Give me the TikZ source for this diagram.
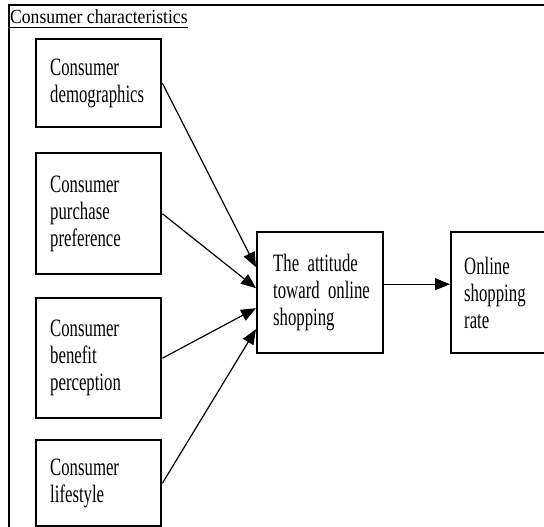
\documentclass[tikz,border=0pt]{standalone}
\usepackage{fontspec}
\setmainfont{Liberation Serif}
\newfontfamily\boxfont[FakeStretch=0.67]{Liberation Serif}
\newfontfamily\titlefont[FakeStretch=0.88]{Liberation Serif}
\usetikzlibrary{arrows.meta}
\begin{document}
\begin{tikzpicture}[x=1pt,y=-1pt,
  boxnode/.style={draw, line width=2.4pt, rectangle, inner ysep=0pt, inner xsep=14pt,
    align=left, anchor=north west, font=\boxfont\fontsize{25}{27}\selectfont},
  link/.style={-{Triangle[length=15pt,width=12pt]}, line width=1.2pt},
  frameline/.style={line width=2pt}]
\useasboundingbox (0,0) rectangle (544,527);
\clip (0,0) rectangle (544,527);
% outer frame
\draw[frameline] (9,540) |- (560,5);
% title
\node[anchor=base west, inner sep=0pt, font=\titlefont\fontsize{20}{24}\selectfont] (title) at (10,24) {Consumer characteristics};
\draw[line width=1pt] (9,28) -- ([yshift=-4pt]title.base east);
% boxes
\node[boxnode, text width=97pt, minimum height=88pt] (b1) at (35,38) {Consumer\\demographics};
\node[boxnode, text width=97pt, minimum height=121pt] (b2) at (35,152) {Consumer\\purchase\\preference};
\node[boxnode, text width=97pt, minimum height=120pt] (b3) at (35,297) {Consumer\\benefit\\perception};
\node[boxnode, text width=97pt, minimum height=86pt] (b4) at (35,439) {Consumer\\lifestyle};
\node[boxnode, inner xsep=16pt, text width=94pt, minimum height=121pt] (c) at (256,231) {The attitude\\\mbox{toward online}\\shopping\\[-6pt]};
\node[boxnode, inner xsep=13pt, text width=100pt, minimum height=121pt] (r) at (450,231) {Online\\shopping\\rate\\[-6pt]};
% connectors
\draw[link] (b1.east) -- ([yshift=25.5pt]c.west);
\draw[link] (b2.east) -- ([yshift=4.5pt]c.west);
\draw[link] (b3.east) -- ([yshift=-15.5pt]c.west);
\draw[link] (b4.east) -- ([yshift=-36.5pt]c.west);
\draw[link] ([yshift=8.5pt]c.east) -- ([yshift=8.5pt]r.west);
\end{tikzpicture}
\end{document}
